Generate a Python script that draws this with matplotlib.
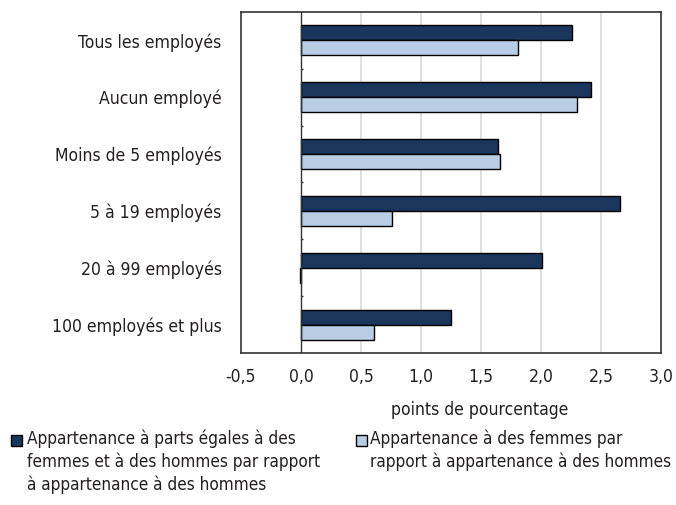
import matplotlib
matplotlib.use("Agg")
import matplotlib.pyplot as plt
from matplotlib.patches import Rectangle
import numpy as np

plt.rcParams["font.family"] = ["Liberation Sans Narrow", "DejaVu Sans"]
plt.rcParams["font.stretch"] = "condensed"

# === DATA ================================================================== #

categories = [
    "Tous les employés",
    "Aucun employé",
    "Moins de 5 employés",
    "5 à 19 employés",
    "20 à 99 employés",
    "100 employés et plus",
]

# Appartenance à parts égales vs appartenance à des hommes
equal_vs_men = [2.26, 2.42, 1.64, 2.66, 2.01, 1.25]
# Appartenance à des femmes vs appartenance à des hommes
women_vs_men = [1.81, 2.30, 1.66, 0.76, -0.01, 0.61]

x_ticks = [-0.5, 0.0, 0.5, 1.0, 1.5, 2.0, 2.5, 3.0]

label_equal = ("Appartenance à parts égales à des\n"
               "femmes et à des hommes par rapport\n"
               "à appartenance à des hommes")
label_women = ("Appartenance à des femmes par\n"
               "rapport à appartenance à des hommes")

DARK = "#1a365d"
LIGHT = "#b9cde5"
TEXT = "#231f20"
FS = 12.6
FS_LEG = 12.3

# === PLOT ================================================================== #

W, H = 676, 505
fig = plt.figure(figsize=(W / 100, H / 100), dpi=100)
ax = fig.add_axes([241 / W, 1 - 353 / H, 420 / W, 341 / H])

y = np.arange(len(categories))
h = 0.265

ax.barh(y - h / 2, equal_vs_men, height=h, color=DARK,
        edgecolor="black", linewidth=1.0, zorder=3)
ax.barh(y + h / 2, women_vs_men, height=h, color=LIGHT,
        edgecolor="black", linewidth=1.0, zorder=3)

ax.set_xlim(-0.5, 3.0)
ax.set_ylim(len(categories) - 0.5, -0.5)

ax.set_xticks(x_ticks)
ax.set_xticklabels([f"{v:.1f}".replace(".", ",") for v in x_ticks])
ax.set_yticks(y)
ax.set_yticklabels(categories)
ax.tick_params(axis="both", length=0, labelsize=FS, colors=TEXT)
ax.tick_params(axis="x", pad=11)
ax.tick_params(axis="y", pad=14)

# vertical gridlines
for v in x_ticks[2:-1]:
    ax.axvline(v, color="#d9d9d9", linewidth=1.2, zorder=1)

# zero axis with small ticks between categories
ax.axvline(0, color="#333333", linewidth=1.0, zorder=4)
ax.hlines(np.arange(len(categories) - 1) + 0.5, 0, 0.02,
          color="#333333", linewidth=1.0, zorder=4)

for s in ax.spines.values():
    s.set_color("#333333")
    s.set_linewidth(1.2)

fig.text(480 / W, 1 - 410 / H, "points de pourcentage", fontsize=FS,
         color=TEXT, ha="center", va="center")

# legend drawn by hand so the swatch sits on the first text line
for sx, tx, col, lab in [(11, 27, DARK, label_equal),
                         (356, 370, LIGHT, label_women)]:
    fig.add_artist(Rectangle((sx / W, 1 - 446 / H), 11 / W, 11 / H,
                             transform=fig.transFigure, facecolor=col,
                             edgecolor="black", linewidth=1.0))
    fig.text(tx / W, 1 - 430 / H, lab, fontsize=FS_LEG, color=TEXT,
             ha="left", va="top", linespacing=1.3)

fig.savefig("out.png", dpi=100)
